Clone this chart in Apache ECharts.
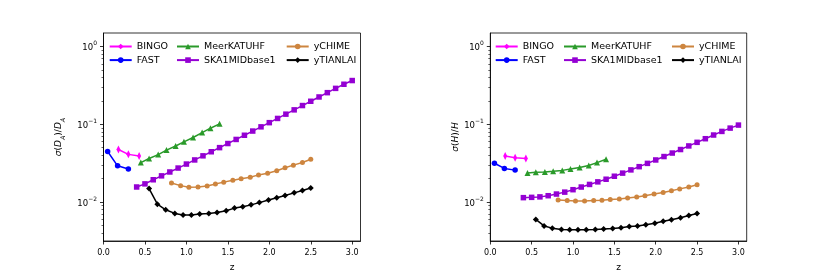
<!DOCTYPE html>
<html><head><meta charset="utf-8">
<script src="https://cdn.jsdelivr.net/npm/echarts@6/dist/echarts.min.js"></script>
<style>html,body{margin:0;padding:0;background:#fff}#c{width:830px;height:277px}</style>
</head><body><div id="c"></div>
<script>
// ---- tick values ----
const xTicks = [0, 0.5, 1.0, 1.5, 2.0, 2.5, 3.0];
const yMajorTicks = [0.01, 0.1, 1];
const yMinorTicks = [0.004,0.005,0.006,0.007,0.008,0.009,
                     0.02,0.03,0.04,0.05,0.06,0.07,0.08,0.09,
                     0.2,0.3,0.4,0.5,0.6,0.7,0.8,0.9];

// ---- data ----
const surveyNames = ['BINGO','FAST','MeerKATUHF','SKA1MIDbase1','yCHIME','yTIANLAI'];

const zBINGO = [0.18, 0.30, 0.43];
const daBINGO = [0.0473, 0.0410, 0.0390];
const hBINGO  = [0.0390, 0.0371, 0.0364];

const zFAST = [0.05, 0.17, 0.30];
const daFAST = [0.0447, 0.0292, 0.0265];
const hFAST  = [0.0315, 0.0270, 0.0257];

const zMeerKAT = [0.45, 0.55, 0.66, 0.76, 0.87, 0.97, 1.08, 1.19, 1.29, 1.40];
const daMeerKAT = [0.0321, 0.0363, 0.0407, 0.0465, 0.0525, 0.0594, 0.0676, 0.0782, 0.0891, 0.1014];
const hMeerKAT  = [0.0236, 0.0241, 0.0243, 0.0248, 0.0255, 0.0265, 0.0278, 0.0295, 0.0321, 0.0354];

const zSKA = [0.4,0.5,0.6,0.7,0.8,0.9,1.0,1.1,1.2,1.3,1.4,1.5,1.6,1.7,1.8,1.9,2.0,2.1,2.2,2.3,2.4,2.5,2.6,2.7,2.8,2.9,3.0];
const daSKA = [0.01558,0.01709,0.01930,0.02168,0.02432,0.02732,0.03076,0.03475,0.03926,0.04429,0.05006,0.05654,0.06383,0.07227,0.08186,0.09275,0.1050,0.1190,0.1351,0.1535,0.1744,0.1980,0.2250,0.2556,0.2903,0.3280,0.3661];
const hSKA  = [0.01136,0.01146,0.01162,0.01203,0.01264,0.01338,0.01438,0.01556,0.01681,0.01814,0.01961,0.02144,0.02351,0.02587,0.02846,0.03139,0.03473,0.03843,0.04264,0.04732,0.05265,0.05859,0.06523,0.07278,0.08099,0.08933,0.09772];

const zCHIME = [0.82,0.93,1.03,1.14,1.25,1.35,1.45,1.56,1.66,1.77,1.87,1.98,2.09,2.19,2.29,2.40,2.50];
const daCHIME = [0.01749,0.01622,0.01544,0.01558,0.01604,0.01700,0.01800,0.01908,0.01987,0.02081,0.02230,0.02336,0.02526,0.02756,0.02979,0.03216,0.03548];
const hCHIME  = [0.01063,0.01041,0.01032,0.01032,0.01041,0.01050,0.01072,0.01094,0.01125,0.01159,0.01203,0.01264,0.01323,0.01390,0.01473,0.01561,0.01668];

const zTIANLAI = [0.55,0.65,0.75,0.86,0.96,1.06,1.16,1.27,1.37,1.48,1.58,1.68,1.78,1.88,1.99,2.09,2.19,2.30,2.40,2.50];
const daTIANLAI = [0.01487,0.00935,0.00793,0.00712,0.00680,0.00680,0.00701,0.00712,0.00733,0.00770,0.00833,0.00865,0.00917,0.00980,0.01060,0.01133,0.01214,0.01309,0.01403,0.01513];
const hTIANLAI  = [0.005963,0.004912,0.004597,0.004415,0.004377,0.004377,0.004377,0.004415,0.004466,0.004545,0.004637,0.004815,0.004912,0.005100,0.005311,0.005627,0.005894,0.006245,0.006691,0.007090];

// ---- styles ----
const FONT = 'DejaVu Sans';
const styles = {
  BINGO:        {color:'#ff00ff', symbol:'diamond', size:[4,8]},
  FAST:         {color:'#0000ff', symbol:'circle', size:5.5},
  MeerKATUHF:   {color:'#2a9a2a', symbol:'triangle', size:6},
  SKA1MIDbase1: {color:'#9400d3', symbol:'rect', size:5.5},
  yCHIME:       {color:'#cd853f', symbol:'circle', size:5},
  yTIANLAI:     {color:'#000000', symbol:'diamond', size:6}
};
const panels = [
  {z:[zBINGO,zFAST,zMeerKAT,zSKA,zCHIME,zTIANLAI], v:[daBINGO,daFAST,daMeerKAT,daSKA,daCHIME,daTIANLAI]},
  {z:[zBINGO,zFAST,zMeerKAT,zSKA,zCHIME,zTIANLAI], v:[hBINGO,hFAST,hMeerKAT,hSKA,hCHIME,hTIANLAI]}
];

const grids = [
  {left:103.5, top:33, width:257, height:213},
  {left:490.3, top:33, width:256.4, height:213}
];
const YMIN = 0.00314, YMAX = 1.5;

function supFmt(v){
  const e = Math.log10(v);
  if (Math.abs(e - Math.round(e)) > 1e-6) return '';
  const n = Math.round(e);
  return '{b|10}{s|' + (n < 0 ? '\u2212' + (-n) : n) + '}';
}
const yLabelRich = {
  b:{fontFamily:FONT, fontSize:8.5, color:'#000', lineHeight:12, verticalAlign:'bottom'},
  s:{fontFamily:FONT, fontSize:6, color:'#000', lineHeight:12, verticalAlign:'top'}
};
const nameRich = {
  i:{fontFamily:FONT, fontStyle:'italic', fontSize:9, color:'#000'},
  u:{fontFamily:FONT, fontSize:9, color:'#000'},
  sub:{fontFamily:FONT, fontStyle:'italic', fontSize:6.5, color:'#000', verticalAlign:'bottom', padding:[0,0,-3,0]}
};
const yNames = ['{i|σ}{u|(}{i|D}{sub|A}{u|)/}{i|D}{sub|A}', '{i|σ}{u|(}{i|H}{u|)/}{i|H}'];
const yNameGaps = [40, 21];

const xAxes = [], yAxes = [], series = [], legends = [];
grids.forEach((g, p) => {
  xAxes.push({
    gridIndex:p, type:'value', min:0, max:3.1,
    name:'z', nameLocation:'middle', nameGap:22,
    nameTextStyle:{fontFamily:FONT, fontSize:9, color:'#000'},
    axisLine:{lineStyle:{color:'#000', width:0.8}},
    axisTick:{length:3.5, lineStyle:{color:'#000', width:0.8}, customValues:xTicks},
    axisLabel:{customValues:xTicks, margin:7.5, fontFamily:FONT, fontSize:8, color:'#000',
               formatter:v => v.toFixed(1)},
    splitLine:{show:false}
  });
  yAxes.push({
    gridIndex:p, type:'log', logBase:10, min:YMIN, max:YMAX, position:'left',
    name:yNames[p], nameLocation:'middle', nameGap:yNameGaps[p],
    nameTextStyle:{fontFamily:FONT, fontSize:9, color:'#000', rich:nameRich},
    axisLine:{show:true, lineStyle:{color:'#000', width:0.8}},
    axisTick:{length:3.5, lineStyle:{color:'#000', width:0.8}, customValues:yMajorTicks},
    axisLabel:{customValues:yMajorTicks, margin:6.5, formatter:supFmt, rich:yLabelRich},
    splitLine:{show:false}, minorTick:{show:false}
  });
  yAxes.push({
    gridIndex:p, type:'log', logBase:10, min:YMIN, max:YMAX, position:'left',
    axisLine:{show:false},
    axisTick:{length:2, lineStyle:{color:'#000', width:0.6}, customValues:yMinorTicks},
    axisLabel:{show:false},
    splitLine:{show:false}
  });
  surveyNames.forEach((n, k) => {
    const st = styles[n];
    const zs = panels[p].z[k], vs = panels[p].v[k];
    series.push({
      name:n, type:'line', xAxisIndex:p, yAxisIndex:2*p,
      data: zs.map((z, i) => [z, vs[i]]),
      symbol:st.symbol, symbolSize:st.size, showSymbol:true,
      lineStyle:{color:st.color, width:1.5},
      itemStyle:{color:st.color, borderWidth:0},
      animation:false, z:2+k
    });
  });
});

const legendCols = [
  [108.7, ['BINGO','FAST']], [176, ['MeerKATUHF','SKA1MIDbase1']], [285.7, ['yCHIME','yTIANLAI']],
  [494.7, ['BINGO','FAST']], [563, ['MeerKATUHF','SKA1MIDbase1']], [671, ['yCHIME','yTIANLAI']]
];
legendCols.forEach(([x, names]) => {
  legends.push({
    orient:'vertical', left:x, top:41.5, itemWidth:22, itemHeight:7, itemGap:3.6,
    selectedMode:false, padding:0,
    textStyle:{fontFamily:FONT, fontSize:9.5, color:'#000', lineHeight:10},
    data:names
  });
});

const chart = echarts.init(document.getElementById('c'), null, {renderer:'canvas'});
chart.setOption({
  animation:false,
  backgroundColor:'#fff',
  grid: grids.map(g => Object.assign({show:true, borderColor:'#000', borderWidth:0.8, backgroundColor:'transparent', containLabel:false}, g)),
  xAxis:xAxes, yAxis:yAxes, legend:legends, series:series
});
</script></body></html>
